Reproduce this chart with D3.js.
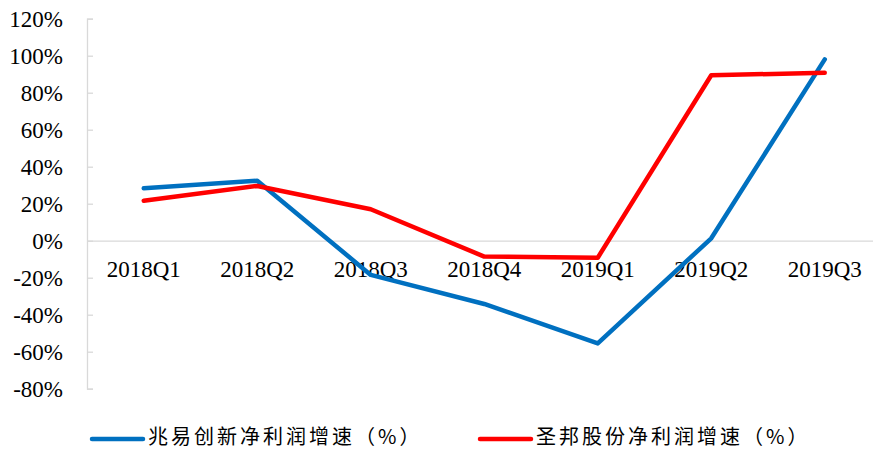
<!DOCTYPE html>
<html>
<head>
<meta charset="utf-8">
<script src="https://cdn.jsdelivr.net/npm/d3@7"></script>
<style>
  body { margin: 0; background: #fff; }
  svg { display: block; }
  .axis text { font-family: "Liberation Serif", "Times New Roman", serif; font-size: 23px; fill: #000; }
  .axis path, .axis line { stroke: #d9d9d9; stroke-width: 1.3px; }
  .legend text { font-family: "Noto Sans CJK SC", sans-serif; font-size: 20px; letter-spacing: 3px; fill: #000; }
</style>
</head>
<body>
<div id="chart"></div>
<script>
document.addEventListener("DOMContentLoaded", function() {

  var W = 873, H = 450;

  // data
  var quarters = ["2018Q1", "2018Q2", "2018Q3", "2018Q4", "2019Q1", "2019Q2", "2019Q3"];
  var zhaoyi = [28.3, 32.4, -18.5, -34.2, -55.5, 1.3, 98];
  var shengbang = [21.6, 29.6, 17, -8.6, -9.2, 89.4, 90.8];
  var yTicks = [-80, -60, -40, -20, 0, 20, 40, 60, 80, 100, 120];
  var seriesNames = ["兆易创新净利润增速（%）", "圣邦股份净利润增速（%）"];
  var seriesColors = ["#0070c0", "#ff0000"];

  var svg = d3.select("#chart").append("svg")
    .attr("width", W)
    .attr("height", H);

  var xScale = d3.scaleBand()
    .domain(quarters)
    .range([87, 881.5]);

  var yScale = d3.scaleLinear()
    .domain([-80, 120])
    .range([388.7, 18.7]);

  // y axis, ticks point inward
  var yAxis = d3.axisLeft(yScale)
    .tickValues(yTicks)
    .tickSize(-6)
    .tickSizeOuter(-6)
    .tickPadding(24)
    .tickFormat(function(d) { return d + "%"; });

  svg.append("g")
     .attr("class", "y axis")
     .attr("transform", "translate(87,0)")
     .call(yAxis)
     .selectAll("text")
     .attr("dy", "0.34em");

  // category axis sits on the zero line
  var xAxis = d3.axisBottom(xScale)
    .tickSize(0)
    .tickSizeOuter(0)
    .tickPadding(20);

  svg.append("g")
     .attr("class", "x axis")
     .attr("transform", "translate(0," + yScale(0) + ")")
     .call(xAxis);

  var line = d3.line()
    .x(function(d, i) { return xScale(quarters[i]) + xScale.bandwidth() / 2; })
    .y(function(d) { return yScale(d); });

  [zhaoyi, shengbang].forEach(function(values, i) {
    svg.append("path")
       .datum(values)
       .attr("fill", "none")
       .attr("stroke", seriesColors[i])
       .attr("stroke-width", 4.5)
       .attr("stroke-linejoin", "round")
       .attr("stroke-linecap", "round")
       .attr("d", line);
  });

  //legend
  var legendX = [90, 478];
  var legend = svg.append("g").attr("class", "legend");
  seriesNames.forEach(function(name, i) {
    legend.append("line")
      .attr("x1", legendX[i] + 2)
      .attr("x2", legendX[i] + 53)
      .attr("y1", 439)
      .attr("y2", 439)
      .attr("stroke", seriesColors[i])
      .attr("stroke-width", 4.5)
      .attr("stroke-linecap", "round");
    legend.append("text")
      .attr("x", legendX[i] + 58)
      .attr("y", 437)
      .attr("dy", "0.36em")
      .text(name);
  });

});
</script>
</body>
</html>
